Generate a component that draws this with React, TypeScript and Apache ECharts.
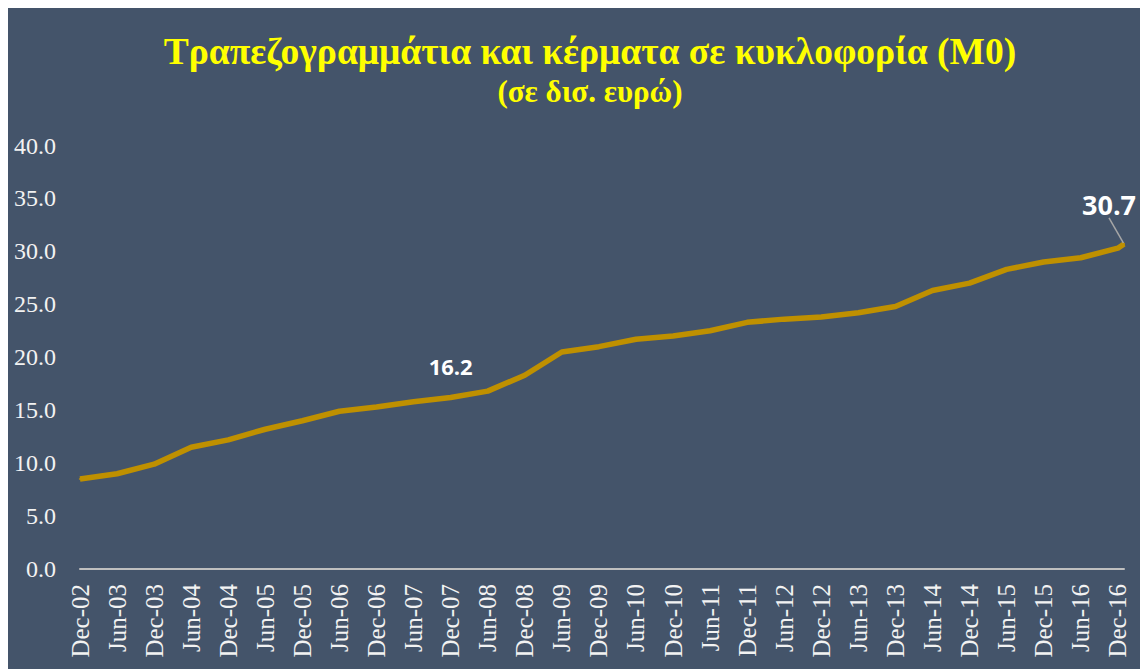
import React, { useEffect, useRef } from "react";
import * as echarts from "echarts";

const titleText = "Τραπεζογραμμάτια και κέρματα σε κυκλοφορία (Μ0)";
const subtitleText = "(σε δισ. ευρώ)";

const tickLabels = [
  "Dec-02", "Jun-03", "Dec-03", "Jun-04", "Dec-04", "Jun-05", "Dec-05", "Jun-06",
  "Dec-06", "Jun-07", "Dec-07", "Jun-08", "Dec-08", "Jun-09", "Dec-09", "Jun-10",
  "Dec-10", "Jun-11", "Dec-11", "Jun-12", "Dec-12", "Jun-13", "Dec-13", "Jun-14",
  "Dec-14", "Jun-15", "Dec-15", "Jun-16", "Dec-16",
];

const periods = [
  "Dec-02", "Jun-03", "Dec-03", "Jun-04", "Dec-04", "Jun-05", "Dec-05", "Jun-06",
  "Dec-06", "Jun-07", "Dec-07", "Jun-08", "Dec-08", "Jun-09", "Dec-09", "Jun-10",
  "Dec-10", "Jun-11", "Dec-11", "Jun-12", "Dec-12", "Jun-13", "Dec-13", "Jun-14",
  "Dec-14", "Jun-15", "Dec-15", "Jun-16", "Dec-16", "Jan-17",
];

const m0Values = [
  8.5, 9.0, 9.9, 11.5, 12.2, 13.2, 14.0, 14.9, 15.3, 15.8, 16.2, 16.8, 18.3, 20.5, 21.0,
  21.7, 22.0, 22.5, 23.3, 23.6, 23.8, 24.2, 24.8, 26.3, 27.0, 28.3, 29.0, 29.4, 30.3, 30.7,
];

const labeledPeriods = ["Dec-07", "Jan-17"];

const yTicks = [0, 5, 10, 15, 20, 25, 30, 35, 40];

const MONTHS: Record<string, number> = {
  Jan: 0, Feb: 1, Mar: 2, Apr: 3, May: 4, Jun: 5, Jul: 6, Aug: 7, Sep: 8, Oct: 9, Nov: 10, Dec: 11,
};

function monthIndex(label: string): number {
  const [mon, yy] = label.split("-");
  const idx = (2000 + parseInt(yy, 10)) * 12 + MONTHS[mon];
  const [m0, y0] = tickLabels[0].split("-");
  const base = (2000 + parseInt(y0, 10)) * 12 + MONTHS[m0];
  return idx - base;
}

export default function App() {
  const ref = useRef<HTMLDivElement>(null);

  useEffect(() => {
    if (!ref.current) return;
    document.documentElement.style.overflow = "hidden";
    const chart = echarts.init(ref.current, undefined, { renderer: "svg" });
    const lastIdx = periods.length - 1;
    const xMax = monthIndex(periods[lastIdx]);

    const data = periods.map((p, i) => {
      const item: any = { value: [monthIndex(p), m0Values[i]] };
      if (p === labeledPeriods[0]) {
        item.label = { show: true, position: "top", distance: 19, offset: [-6, 0], fontSize: 22 };
      } else if (p === labeledPeriods[1]) {
        item.label = { show: true, position: "top", distance: 5, fontSize: 27 };
        item.labelLine = { show: true, lineStyle: { color: "#A6A6A6", width: 1.5 } };
      }
      return item;
    });

    chart.setOption({
      animation: false,
      backgroundColor: "#44546A",
      title: {
        text: titleText,
        subtext: subtitleText,
        left: 577,
        textAlign: "center",
        top: 18,
        itemGap: 3,
        textStyle: {
          color: "#FFFF00",
          fontFamily: "Liberation Serif",
          fontWeight: "bold",
          fontSize: 37.5,
          lineHeight: 40,
        },
        subtextStyle: {
          color: "#FFFF00",
          fontFamily: "Liberation Serif",
          fontWeight: "bold",
          fontSize: 31,
          lineHeight: 34,
        },
      },
      grid: { left: 72, right: 24, top: 137.5, bottom: 100, containLabel: false },
      xAxis: {
        type: "value",
        min: 0,
        max: xMax,
        interval: 6,
        axisLine: { show: true, lineStyle: { color: "#BFBFBF", width: 2 } },
        axisTick: { show: false },
        splitLine: { show: false },
        axisLabel: {
          rotate: 90,
          margin: 15,
          color: "#F2F2F2",
          fontFamily: "Liberation Serif",
          fontSize: 25,
          padding: [10, 0, 0, 0],
          showMaxLabel: false,
          formatter: (v: number) => (v % 6 === 0 ? tickLabels[v / 6] ?? "" : ""),
        },
      },
      yAxis: {
        type: "value",
        min: yTicks[0],
        max: yTicks[yTicks.length - 1],
        interval: yTicks[1] - yTicks[0],
        axisLine: { show: false },
        axisTick: { show: false },
        splitLine: { show: false },
        axisLabel: {
          margin: 24,
          color: "#F2F2F2",
          fontFamily: "Liberation Serif",
          fontSize: 24,
          formatter: (v: number) => v.toFixed(1),
        },
      },
      series: [
        {
          type: "line",
          data,
          symbol: "circle",
          symbolSize: 2,
          showSymbol: true,
          itemStyle: { color: "#BF9000" },
          lineStyle: { color: "#BF9000", width: 5.5 },
          label: {
            show: false,
            color: "#FFFFFF",
            fontWeight: "bold",
            fontFamily: "Open Sans",
            formatter: (p: any) => p.value[1].toFixed(1),
          },
          labelLayout: (params: any) =>
            params.dataIndex === lastIdx ? { dx: -15, dy: -20 } : {},
        },
      ],
    });

    return () => {
      chart.dispose();
    };
  }, []);

  return <div ref={ref} style={{ width: 1140, height: 661 }} />;
}
